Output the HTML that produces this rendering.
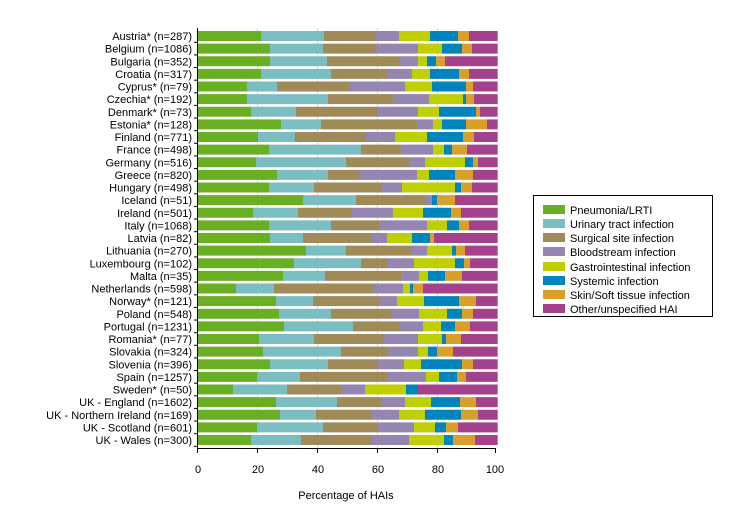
<!DOCTYPE html>
<html><head><meta charset="utf-8"><style>
body{margin:0;background:#fff;width:729px;height:523px;overflow:hidden;font-family:"Liberation Sans",sans-serif}
svg text{font-family:"Liberation Sans",sans-serif;font-size:11px;fill:#000}
</style></head><body>
<svg id="s" width="729" height="523" xmlns="http://www.w3.org/2000/svg">
<g stroke="#d8d8d8" stroke-width="1">
<line x1="257.5" y1="28" x2="257.5" y2="448"/><line x1="317.5" y1="28" x2="317.5" y2="448"/>
<line x1="377.5" y1="28" x2="377.5" y2="448"/><line x1="437.5" y1="28" x2="437.5" y2="448"/>
</g>
<g id="bars"></g>
<g stroke="#000" stroke-width="1">
<line x1="197.5" y1="28" x2="197.5" y2="449"/>
<line x1="197" y1="448.5" x2="496" y2="448.5"/>
<line x1="197.5" y1="448" x2="197.5" y2="453"/><line x1="257.5" y1="448" x2="257.5" y2="453"/>
<line x1="317.5" y1="448" x2="317.5" y2="453"/><line x1="377.5" y1="448" x2="377.5" y2="453"/>
<line x1="437.5" y1="448" x2="437.5" y2="453"/><line x1="495.5" y1="448" x2="495.5" y2="453"/>
</g>
<g id="ticks" stroke="#000"></g>
<g text-anchor="middle">
<text x="198" y="473">0</text><text x="258" y="473">20</text><text x="318" y="473">40</text>
<text x="378" y="473">60</text><text x="438" y="473">80</text><text x="495" y="473">100</text>
<text x="346" y="499">Percentage of HAIs</text>
</g>
<g text-anchor="end">
<text x="192" y="40">Austria* (n=287)</text>
<text x="192" y="52.6">Belgium (n=1086)</text>
<text x="192" y="65.3">Bulgaria (n=352)</text>
<text x="192" y="77.9">Croatia (n=317)</text>
<text x="192" y="90.5">Cyprus* (n=79)</text>
<text x="192" y="103.1">Czechia* (n=192)</text>
<text x="192" y="115.8">Denmark* (n=73)</text>
<text x="192" y="128.4">Estonia* (n=128)</text>
<text x="192" y="141">Finland (n=771)</text>
<text x="192" y="153.6">France (n=498)</text>
<text x="192" y="166.3">Germany (n=516)</text>
<text x="192" y="178.9">Greece (n=820)</text>
<text x="192" y="191.5">Hungary (n=498)</text>
<text x="192" y="204.1">Iceland (n=51)</text>
<text x="192" y="216.8">Ireland (n=501)</text>
<text x="192" y="229.4">Italy (n=1068)</text>
<text x="192" y="242">Latvia (n=82)</text>
<text x="192" y="254.6">Lithuania (n=270)</text>
<text x="192" y="267.3">Luxembourg (n=102)</text>
<text x="192" y="279.9">Malta (n=35)</text>
<text x="192" y="292.5">Netherlands (n=598)</text>
<text x="192" y="305.1">Norway* (n=121)</text>
<text x="192" y="317.8">Poland (n=548)</text>
<text x="192" y="330.4">Portugal (n=1231)</text>
<text x="192" y="343">Romania* (n=77)</text>
<text x="192" y="355.6">Slovakia (n=324)</text>
<text x="192" y="368.3">Slovenia (n=396)</text>
<text x="192" y="380.9">Spain (n=1257)</text>
<text x="192" y="393.5">Sweden* (n=50)</text>
<text x="192" y="406.1">UK - England (n=1602)</text>
<text x="192" y="418.8">UK - Northern Ireland (n=169)</text>
<text x="192" y="431.4">UK - Scotland (n=601)</text>
<text x="192" y="444">UK - Wales (n=300)</text>
</g>
<rect x="533.5" y="195.5" width="179" height="121" fill="#fff" stroke="#000"/>
<g>
<rect x="543" y="205" width="22" height="9" fill="#6AAF23"/><text x="570" y="214">Pneumonia/LRTI</text>
<rect x="543" y="219" width="22" height="9" fill="#7ABEC2"/><text x="570" y="228">Urinary tract infection</text>
<rect x="543" y="233" width="22" height="9" fill="#A08A58"/><text x="570" y="242">Surgical site infection</text>
<rect x="543" y="247" width="22" height="9" fill="#9486B0"/><text x="570" y="256">Bloodstream infection</text>
<rect x="543" y="262" width="22" height="9" fill="#BFCF00"/><text x="570" y="271">Gastrointestinal infection</text>
<rect x="543" y="276" width="22" height="9" fill="#0084BE"/><text x="570" y="285">Systemic infection</text>
<rect x="543" y="290" width="22" height="9" fill="#D8A02A"/><text x="570" y="299">Skin/Soft tissue infection</text>
<rect x="543" y="304" width="22" height="9" fill="#A4418C"/><text x="570" y="313">Other/unspecified HAI</text>
</g>
</svg>
<script>
var C=["#6AAF23","#7ABEC2","#A08A58","#9486B0","#BFCF00","#0084BE","#D8A02A","#A4418C"];
var D=[[198,387,543,612,705,789,822],[225,384,543,669,741,801,831],[225,396,615,669,696,723,750],[198,408,579,651,705,792,822],
[156,246,462,630,711,813,834],[156,399,594,702,804,813,837],[168,303,546,669,732,843,855],[258,378,666,714,741,813,876],
[189,300,513,600,696,804,837],[222,498,618,714,747,771,816],[183,453,645,690,810,834,849],[246,399,495,666,702,780,834],
[222,357,561,621,780,798,831],[324,483,693,711,711,726,780],[174,309,471,594,684,768,798],[222,408,555,696,756,792,822],
[225,324,531,576,651,705,717],[333,453,651,696,771,783,810],[297,498,579,657,780,807,825],[264,390,622,672,699,750,801],
[123,237,537,624,645,654,684],[243,354,555,606,687,792,843],[252,408,588,672,756,801,834],[267,474,615,684,738,780,825],
[192,357,567,669,741,753,798],[204,438,579,669,699,726,774],[225,399,549,627,678,801,834],[186,315,576,693,732,786,813],
[114,276,438,510,633,669,669],[243,426,561,630,708,795,843],[255,363,531,612,690,798,849],[186,384,549,657,720,753,789],
[168,318,531,642,747,774,840]];
var ns="http://www.w3.org/2000/svg",g=document.getElementById("bars"),t=document.getElementById("ticks");
for(var i=0;i<D.length;i++){var y=36+i*12.625,b=[8].concat(D[i],[908]);
for(var k=0;k<8;k++){var x0=195+b[k]/3,x1=195+b[k+1]/3;if(x1<=x0)continue;
var r=document.createElementNS(ns,"rect");r.setAttribute("x",x0);r.setAttribute("y",y-5);r.setAttribute("width",x1-x0);r.setAttribute("height",10);r.setAttribute("fill",C[k]);g.appendChild(r);}
var l=document.createElementNS(ns,"line");l.setAttribute("x1",194);l.setAttribute("x2",198);l.setAttribute("y1",y+6.3);l.setAttribute("y2",y+6.3);t.appendChild(l);}
</script>
</body></html>
